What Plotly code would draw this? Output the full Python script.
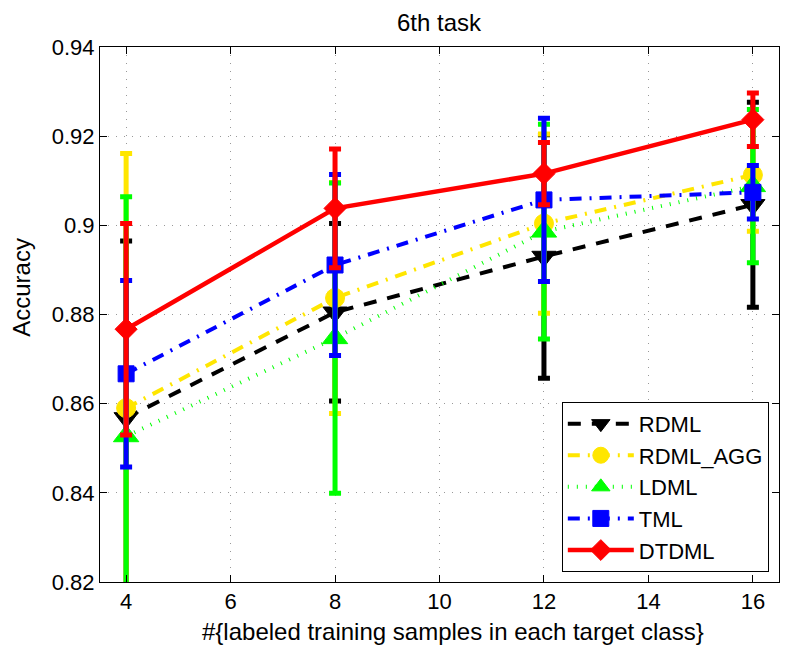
import plotly.graph_objects as go

x_vals = [4, 8, 12, 16]

rdml_mean = [0.8568, 0.8805, 0.8930, 0.9046]
rdml_err = [0.0397, 0.0199, 0.0273, 0.0230]

agg_mean = [0.8590, 0.8837, 0.9004, 0.9113]
agg_err = [0.0571, 0.0259, 0.0201, 0.0126]

ldml_mean = [0.8527, 0.8747, 0.8986, 0.9088]
ldml_err = [0.0537, 0.0348, 0.0241, 0.0172]

tml_mean = [0.8667, 0.8911, 0.9057, 0.9074]
tml_err = [0.0209, 0.0203, 0.0183, 0.0060]

dtdml_mean = [0.8767, 0.9038, 0.9116, 0.9237]
dtdml_err = [0.0237, 0.0133, 0.0070, 0.0060]

x_ticks = [4, 6, 8, 10, 12, 14, 16]
y_ticks = [0.82, 0.84, 0.86, 0.88, 0.90, 0.92, 0.94]
y_ticktext = ["0.82", "0.84", "0.86", "0.88", "0.9", "0.92", "0.94"]

FONT = "Liberation Sans, Arial, Helvetica, sans-serif"

series = [
    ("RDML", rdml_mean, rdml_err, "#000000", "13px,11px", 4, "triangle-down", 21),
    ("RDML_AGG", agg_mean, agg_err, "#FFE600", "12px,8px,2px,8px", 4, "circle", 19),
    ("LDML", ldml_mean, ldml_err, "#00FF00", "1px,8px", 4, "triangle-up", 22),
    ("TML", tml_mean, tml_err, "#0000FF", "12px,8px,2px,8px", 4, "square", 16),
    ("DTDML", dtdml_mean, dtdml_err, "#FF0000", "solid", 4.5, "diamond", 17),
]

fig = go.Figure()
for name, m, e, c, dash, lw, sym, ms in series:
    fig.add_trace(go.Scatter(
        x=x_vals, y=m, name=name, mode="lines+markers",
        line=dict(color=c, width=lw, dash=dash),
        marker=dict(symbol=sym, size=ms, color=c, line=dict(color=c, width=1)),
        error_y=dict(type="data", array=e, visible=True, color=c,
                     thickness=5, width=6),
    ))

axis_common = dict(
    showline=True, linecolor="black", linewidth=1, mirror="ticks",
    ticks="inside", ticklen=7, tickcolor="black", tickwidth=1,
    showgrid=True, gridcolor="#999999", gridwidth=1, griddash="1px,7px",
    zeroline=False, tickfont=dict(family=FONT, size=22, color="black"),
)

fig.update_layout(
    width=812, height=653,
    margin=dict(l=100, r=33, t=47, b=71),
    paper_bgcolor="white", plot_bgcolor="white",
    font=dict(family=FONT, color="black"),
    xaxis=dict(range=[3.5, 16.5], tickvals=x_ticks, **axis_common),
    yaxis=dict(range=[0.82, 0.94], tickvals=y_ticks, ticktext=y_ticktext, **axis_common),
    showlegend=True,
    legend=dict(
        x=0.985, y=0.019, xanchor="right", yanchor="bottom",
        bgcolor="white", bordercolor="black", borderwidth=1,
        font=dict(family=FONT, size=22, color="black"),
        itemwidth=66, tracegroupgap=0,
    ),
    annotations=[
        dict(text="6th task", xref="paper", yref="paper", x=0.5, y=1,
             xanchor="center", yanchor="middle", yshift=25, showarrow=False,
             font=dict(family=FONT, size=24)),
        dict(text="Accuracy", xref="paper", yref="paper", x=0, y=0.55,
             xanchor="center", yanchor="middle", xshift=-78, textangle=-90,
             showarrow=False, font=dict(family=FONT, size=24)),
        dict(text="#{labeled training samples in each target class}",
             xref="paper", yref="paper", x=0.52, y=0,
             xanchor="center", yanchor="middle", yshift=-49,
             showarrow=False, font=dict(family=FONT, size=24)),
    ],
)

fig.write_html("out.html")
